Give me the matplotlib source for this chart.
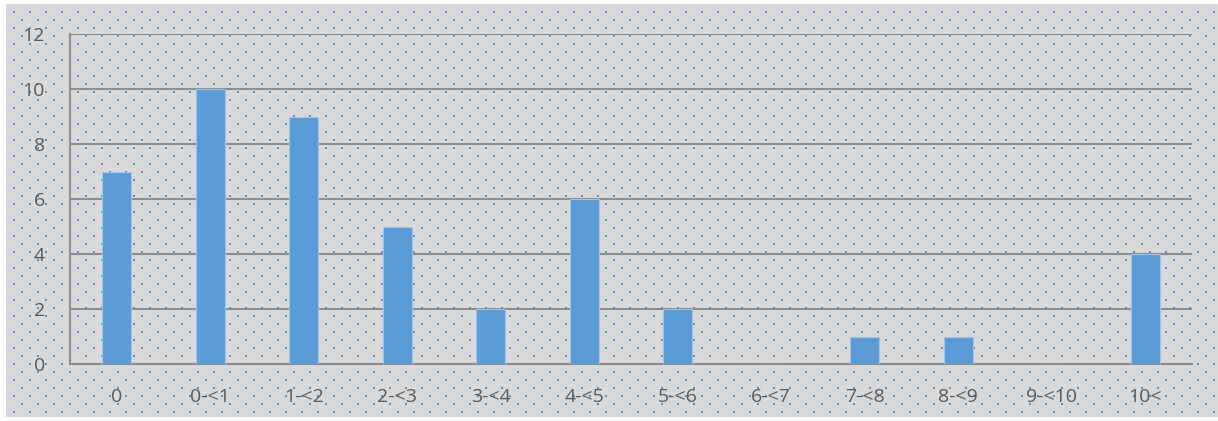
import numpy as np
import matplotlib.pyplot as plt
from matplotlib.patches import Rectangle

categories = ['0', '0-<1', '1-<2', '2-<3', '3-<4', '4-<5', '5-<6', '6-<7',
              '7-<8', '8-<9', '9-<10', '10<']
counts = [7, 10, 9, 5, 2, 6, 2, 0, 1, 1, 0, 4]
yticks = [0, 2, 4, 6, 8, 10, 12]

plt.rcParams['font.family'] = ['Open Sans', 'DejaVu Sans']

W, H = 1218, 421
fig = plt.figure(figsize=(W / 100, H / 100), dpi=100, facecolor='white')

# background: gray panel with a staggered dot texture (pixel coords)
bgax = fig.add_axes([0, 0, 1, 1], zorder=-5)
bgax.set_xlim(0, W)
bgax.set_ylim(H, 0)
bgax.axis('off')
bgax.add_patch(Rectangle((6, 4), W - 6, 413, facecolor='#d9d9d9',
                         edgecolor='none'))
px, py = [], []
for r, yy in enumerate(np.arange(11, 417, 8)):
    xs = np.arange(13 + 8 * (r % 2), W, 16)
    px.extend(xs + 0.5)
    py.extend([yy + 0.5] * len(xs))
bgax.scatter(px, py, s=3.2, marker='s', color='#4d94db', linewidths=0)

ax = fig.add_axes([70 / W, 1 - 364 / H, (1192 - 70) / W, (364 - 34) / H])
ax.patch.set_alpha(0)

x = range(len(categories))
ax.bar(x, counts, width=0.31, color='#5b9bd5', edgecolor='#9dc3e6',
       linewidth=0.8, zorder=3)

ax.set_xlim(-0.5, len(categories) - 0.5)
ax.set_ylim(0, 12)
ax.set_yticks(yticks)
ax.set_xticks(list(x))
ax.set_xticklabels(categories)
ax.yaxis.grid(True, color='#8c8c8c', linewidth=1.5, zorder=1)
ax.set_axisbelow(True)

for s in ['top', 'right']:
    ax.spines[s].set_visible(False)
for s in ['left', 'bottom']:
    ax.spines[s].set_color('#8c8c8c')
    ax.spines[s].set_linewidth(1.5)

ax.tick_params(axis='both', length=0, labelsize=14, labelcolor='#595959')
ax.tick_params(axis='y', pad=18)
ax.tick_params(axis='x', pad=17)

fig.savefig('out.png', dpi=100, facecolor=fig.get_facecolor())
